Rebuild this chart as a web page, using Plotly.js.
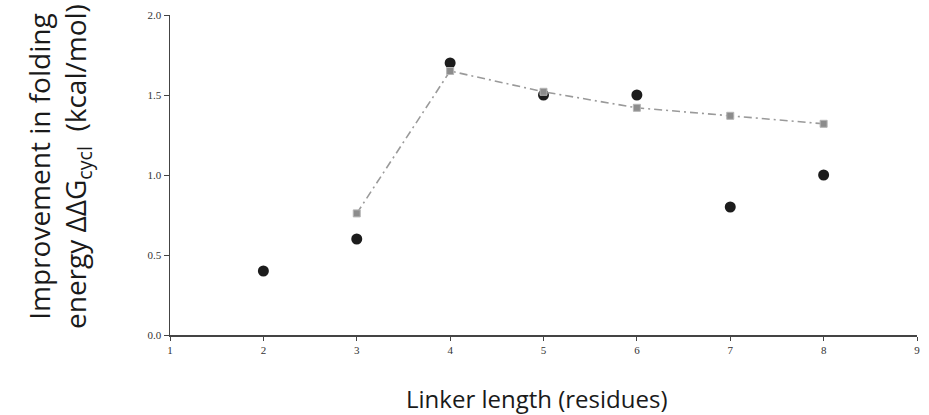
<!DOCTYPE html>
<html>
<head>
<meta charset="utf-8">
<script src="https://cdn.plot.ly/plotly-3.0.1.min.js"></script>
<style>html,body{margin:0;padding:0;background:#fff;}#chart{width:929px;height:415px;}</style>
</head>
<body>
<div id="chart"></div>
<script>
const circleX = [2, 3, 4, 5, 6, 7, 8];
const circleY = [0.40, 0.60, 1.70, 1.50, 1.50, 0.80, 1.00];
const squareX = [3, 4, 5, 6, 7, 8];
const squareY = [0.76, 1.65, 1.52, 1.42, 1.37, 1.32];
const xTicks = [1, 2, 3, 4, 5, 6, 7, 8, 9];
const yTicks = [0, 0.5, 1.0, 1.5, 2.0];
const yTickText = ['0.0', '0.5', '1.0', '1.5', '2.0'];
const xTitle = 'Linker length (residues)';
const yTitle = 'Improvement in folding<br>energy ΔΔG<sub>cycl</sub>  (kcal/mol)';

const traces = [
  {
    x: circleX, y: circleY, type: 'scatter', mode: 'markers',
    marker: {symbol: 'circle', size: 11, color: '#1c1c1c', line: {width: 0}},
    showlegend: false
  },
  {
    x: squareX, y: squareY, type: 'scatter', mode: 'lines+markers',
    line: {color: '#9a9a9a', width: 1.6, dash: '8px,4px,2px,4px'},
    marker: {symbol: 'square', size: 7, color: '#8c8c8c', line: {color: '#b5b5b5', width: 1}},
    showlegend: false
  }
];

const tickFont = {family: 'Liberation Serif, Times New Roman, serif', size: 11, color: '#333'};
const titleFamily = 'Open Sans, Noto Sans, sans-serif';

const layout = {
  width: 929, height: 415,
  margin: {l: 170, r: 12, t: 15, b: 80},
  paper_bgcolor: '#fff', plot_bgcolor: '#fff',
  xaxis: {
    range: [1, 9], tickvals: xTicks, ticktext: xTicks.map(String),
    showgrid: false, zeroline: false, showline: true, linecolor: '#444', linewidth: 1.5,
    ticks: 'outside', ticklen: 4, tickcolor: '#444', tickfont: tickFont
  },
  yaxis: {
    range: [0, 2], tickvals: yTicks, ticktext: yTickText,
    showgrid: false, zeroline: false, showline: true, linecolor: '#444', linewidth: 1.5,
    ticks: 'outside', ticklen: 5, tickcolor: '#444', tickfont: tickFont
  },
  annotations: [
    {
      text: yTitle, xref: 'paper', yref: 'paper', x: 0, y: 0.5,
      xanchor: 'center', yanchor: 'middle', xshift: -111, yshift: 8,
      textangle: -90, showarrow: false,
      font: {family: titleFamily, size: 28, color: '#1a1a1a'}
    },
    {
      text: xTitle, xref: 'paper', yref: 'paper', x: 0.5, y: 0,
      xanchor: 'center', yanchor: 'middle', xshift: -7, yshift: -63,
      showarrow: false,
      font: {family: titleFamily, size: 24, color: '#1a1a1a'}
    }
  ]
};

Plotly.newPlot('chart', traces, layout, {displayModeBar: false, staticPlot: true});
</script>
</body>
</html>
